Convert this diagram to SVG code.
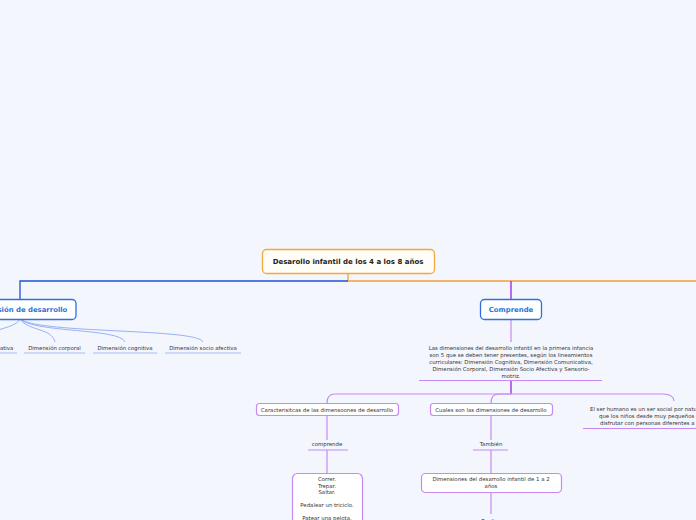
<svg xmlns="http://www.w3.org/2000/svg" width="696" height="520" viewBox="0 0 696 520">
<style>
text{font-family:"DejaVu Sans","Verdana",sans-serif;fill:#333;}
.s{font-size:5.4px;text-anchor:middle;}
.st{font-size:5.4px;}
.b{font-weight:bold;text-anchor:middle;}
.pb{fill:#fff;stroke:#c68af2;stroke-width:1.2;}
.pl{fill:none;stroke:#c68af2;stroke-width:1.2;}
.pd{fill:none;stroke:#a53de6;stroke-width:1.5;}
.bl{fill:none;stroke:#8fa9f4;stroke-width:0.9;}
.ul{fill:none;stroke:#a8bcf6;stroke-width:1.2;}
</style>
<rect width="696" height="520" fill="#f3f6fd"/>
<g id="connectors">
<path d="M348,273 V281 H696" fill="none" stroke="#f3a03a" stroke-width="1.3"/>
<path d="M348,281 H20 V299" fill="none" stroke="#1f4fd6" stroke-width="1.3"/>
<path d="M511,281 V299" class="pd"/>
<path d="M511,319 V342" class="pl"/>
<path d="M511,380 V394" class="pd"/>
<path d="M511,394 H335 Q327,394 327,403" class="pl"/>
<path d="M511,394 H499 Q491,394 491,403" class="pl"/>
<path d="M511,394 H664 Q674,395 674,401" class="pl"/>
<path d="M327,415 V440" class="pl"/>
<path d="M327,450 V473" class="pl"/>
<path d="M491,415 V440" class="pl"/>
<path d="M491,450 V473" class="pl"/>
<path d="M491,492 V514" class="pl"/>
<path d="M20,319 C15,330 -20,330 -25,342" class="bl"/>
<path d="M20,319 C28,331 52,328 55,342" class="bl"/>
<path d="M20,319 C35,333 120,328 125,342" class="bl"/>
<path d="M20,319 C40,334 198,328 203,342" class="bl"/>
</g>
<g id="root">
<rect x="262.5" y="249.5" width="172" height="24" rx="4" fill="#fffdf8" stroke="#f5a83e" stroke-width="1.3"/>
<text x="348" y="263.5" class="b" style="font-size:7px;fill:#222">Desarollo infantil de los 4 a los 8 años</text>
</g>
<g id="dimension">
<rect x="-36" y="299.5" width="112" height="20" rx="4" fill="#fff" stroke="#2f6fdf" stroke-width="1.3"/>
<text x="20" y="312" class="b" style="font-size:6.9px;fill:#2a74d6">Dimensión de desarrollo</text>
</g>
<g id="comunicativa">
<text x="-20" y="350" class="s">Dimensión comunicativa</text>
<path d="M-60,353 H17" class="ul"/>
</g>
<g id="corporal">
<text x="54.5" y="350" class="s">Dimensión corporal</text>
<path d="M24,353 H85" class="ul"/>
</g>
<g id="cognitiva">
<text x="125" y="350" class="s">Dimensión cognitiva</text>
<path d="M93,353 H157" class="ul"/>
</g>
<g id="socioafectiva">
<text x="203" y="350" class="s">Dimensión socio afectiva</text>
<path d="M165,353 H241" class="ul"/>
</g>
<g id="comprende">
<rect x="480.5" y="299.5" width="61" height="20" rx="4" fill="#fff" stroke="#2f6fdf" stroke-width="1.3"/>
<text x="511" y="312" class="b" style="font-size:6.9px;fill:#2a74d6">Comprende</text>
</g>
<g id="dimensiones-texto">
<text class="s"><tspan x="511" y="350">Las dimensiones del desarrollo infantil en la primera infancia</tspan><tspan x="511" y="357">son 5 que se deben tener presentes, según los lineamientos</tspan><tspan x="511" y="364">curriculares: Dimensión Cognitiva, Dimensión Comunicativa,</tspan><tspan x="511" y="371">Dimensión Corporal, Dimensión Socio Afectiva y Sensorio-</tspan><tspan x="511" y="378">motriz.</tspan></text>
<path d="M419,380.5 H602" class="pl"/>
</g>
<g id="caracteristicas">
<rect x="256.5" y="403.5" width="142" height="12" rx="3" class="pb"/>
<text x="327" y="411.5" class="s">Caracterisitcas de las dimensoones de desarrollo</text>
</g>
<g id="cuales">
<rect x="430.5" y="403.5" width="122" height="12" rx="3" class="pb"/>
<text x="491" y="411.5" class="s">Cuales son las dimensiones de desarrollo</text>
</g>
<g id="ser-social">
<text class="st"><tspan x="590" y="411">El ser humano es un ser social por naturaleza, por lo</tspan><tspan x="599" y="418">que los niños desde muy pequeños necesitan</tspan><tspan x="600" y="425">disfrutar con personas diferentes a su familia.</tspan></text>
<path d="M583,428.5 H765" class="pl"/>
</g>
<g id="comprende2">
<text x="327" y="446" class="s">comprende</text>
<path d="M308,450 H348" class="pl"/>
</g>
<g id="tambien">
<text x="491" y="446" class="s">También</text>
<path d="M473,450 H508" class="pl"/>
</g>
<g id="motricidad">
<rect x="292.5" y="473.5" width="70" height="60" rx="5" class="pb"/>
<text class="s"><tspan x="327" y="481">Correr.</tspan><tspan x="327" y="487.5">Trepar.</tspan><tspan x="327" y="494">Saltar.</tspan><tspan x="327" y="507">Pedalear un triciclo.</tspan><tspan x="327" y="520">Patear una pelota.</tspan></text>
</g>
<g id="uno-dos">
<rect x="421.5" y="473.5" width="140" height="19" rx="4" class="pb"/>
<text class="s"><tspan x="491" y="481">Dimensiones del desarrollo infantil de 1 a 2</tspan><tspan x="491" y="488">años</tspan></text>
</g>
<g id="realiza">
<text x="491" y="523" class="s">Realiza</text>
</g>
</svg>
